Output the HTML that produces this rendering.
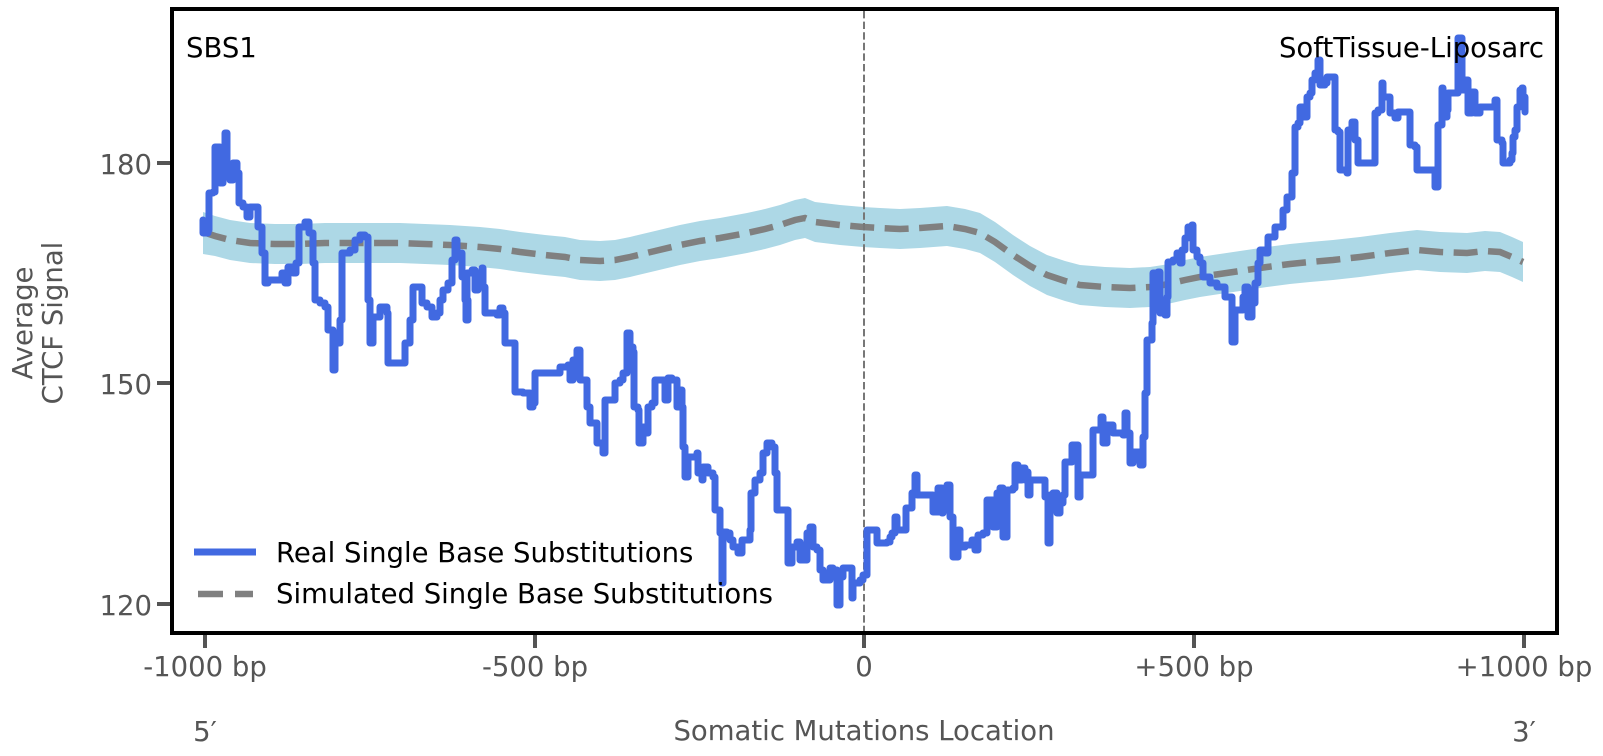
<!DOCTYPE html>
<html><head><meta charset="utf-8"><style>
html,body{margin:0;padding:0;background:#fff;}
svg{display:block;}
text{font-family:"DejaVu Sans","Liberation Sans",sans-serif;}
</style></head><body>
<svg width="1603" height="756" viewBox="0 0 1603 756" xmlns="http://www.w3.org/2000/svg">
<rect x="0" y="0" width="1603" height="756" fill="#fff"/>
<!-- band -->
<polygon fill="#ADD8E6" points="203,212 215,216 230,220 250,223 275,224 300,224 325,223 350,223 375,223 400,223 425,224 450,225 480,227 500,229 520,232 545,235 565,237 580,240 600,241 615,240 630,237 655,231 680,225 700,221 720,218 747,213 765,209 780,205 795,200 805,198 815,202 840,205 863,207 880,208 900,209 920,208 947,206 965,209 980,213 995,222 1013,235 1030,246 1047,255 1065,261 1080,265 1105,267 1130,268 1150,267 1163,265 1185,260 1200,257 1213,255 1240,251 1267,247 1290,244 1310,242 1333,240 1360,237 1390,233 1417,230 1440,232 1467,233 1485,231 1500,232 1512,237 1523,242 1523,282 1512,277 1500,272 1485,271 1467,273 1440,272 1417,270 1390,273 1360,277 1333,280 1310,282 1290,284 1267,287 1240,291 1213,295 1200,297 1185,300 1163,305 1150,307 1130,308 1105,307 1080,305 1065,301 1047,295 1030,286 1013,275 995,262 980,253 965,249 947,246 920,248 900,249 880,248 863,247 840,245 815,242 805,238 795,240 780,245 765,249 747,253 720,258 700,261 680,265 655,271 630,277 615,280 600,281 580,280 565,277 545,275 520,272 500,269 480,267 450,265 425,264 400,263 375,263 350,263 325,263 300,264 275,264 250,263 230,260 215,256 203,254"/>
<!-- simulated dashed -->
<polyline fill="none" stroke="#808080" stroke-width="6.5" stroke-dasharray="24 10.5" points="203,232 215,236 230,240 250,243 275,244 300,244 325,243 350,243 375,243 400,243 425,244 450,245 480,247 500,249 520,252 545,255 565,257 580,260 600,261 615,260 630,257 655,251 680,245 700,241 720,238 747,233 765,229 780,225 795,220 805,218 815,222 840,225 863,227 880,228 900,229 920,228 947,226 965,229 980,233 995,242 1013,255 1030,266 1047,275 1065,281 1080,285 1105,287 1130,288 1150,287 1163,285 1185,280 1200,277 1213,275 1240,271 1267,267 1290,264 1310,262 1333,260 1360,257 1390,253 1417,250 1440,252 1467,253 1485,251 1500,252 1512,257 1523,262"/>
<!-- zero line -->
<line x1="864" y1="11" x2="864" y2="631" stroke="#777" stroke-width="2" stroke-dasharray="7.4 3.2"/>
<!-- real series (step) -->
<path fill="none" stroke="#4169E1" stroke-width="7" stroke-linejoin="round" stroke-linecap="round" d="M203,220 V233 H206 H208 V230 H209 V193 H213 V192 H215 V147 H218 H220 V183 H223 V160 H225 V133 H227 V167 H230 V180 H233 V163 H237 V173 H239 V203 H243 V207 H247 V217 H250 V207 H256 H258 V227 H262 V253 H265 V283 H268 V280 H278 H282 V273 H285 V283 H288 V267 H293 V273 H296 V263 H299 V227 H305 V222 H309 V233 H313 V263 H315 V300 H320 V303 H325 V307 H328 V330 H333 V370 H335 V343 H340 V320 H342 V253 H350 V250 H355 V240 H360 V235 H365 V237 H368 V300 H370 V343 H373 V317 H380 V307 H387 V313 H388 V363 H403 H405 V343 H410 V320 H413 V287 H420 H422 V303 H427 V307 H432 V317 H437 V313 H440 V300 H443 V290 H448 V283 H452 V260 H455 V240 H457 V253 H462 V277 H465 V300 H466 V320 H468 V300 H467 V273 H472 V270 H475 V290 H478 V273 H482 V268 H483 V287 H485 V313 H497 V315 H500 V308 H503 V313 H505 V343 H513 H515 V392 H523 V393 H530 V407 H533 V403 H535 V373 H558 H560 V367 H568 V365 H570 V380 H573 V360 H577 V350 H580 V380 H585 H587 V407 H590 V423 H595 H597 V443 H600 H603 V453 H605 V400 H613 H615 V383 H620 V380 H623 V373 H627 V333 H630 V347 H633 V352 H634 V407 H638 V410 H639 V443 H643 V427 H647 V433 H648 V407 H652 V403 H655 V380 H662 H665 V400 H668 V378 H672 V380 H677 V407 H680 V390 H682 V407 H683 V447 H685 V477 H688 V457 H697 V453 H698 V473 H702 V480 H703 V467 H708 V473 H713 V477 H715 V510 H717 H720 V533 H722 V583 H723 V532 H727 V533 H730 V540 H733 V547 H738 V553 H742 V540 H747 H750 V530 H751 V493 H755 V480 H760 V473 H763 V453 H767 V443 H772 V447 H775 V473 H777 V510 H787 H788 V563 H792 V547 H797 V542 H800 V560 H805 H807 V533 H810 V527 H813 V547 H817 V550 H820 V570 H823 V580 H830 V568 H833 V570 H837 V605 H840 V577 H843 V568 H850 H852 V598 H853 V583 H860 V580 H863 V575 H867 V530 H875 H877 V543 H887 V542 H890 V537 H892 V533 H895 V517 H897 V530 H905 H906 V508 H910 H912 V493 H915 V475 H917 V495 H932 H933 V512 H937 H938 V488 H942 V513 H943 V490 H947 V485 H950 V517 H953 V557 H958 V530 H960 V547 H965 V545 H972 V540 H975 V550 H978 V535 H983 V533 H987 V500 H990 H993 V527 H997 V493 H1000 V488 H1003 V537 H1007 V490 H1013 V488 H1015 V465 H1018 V480 H1022 V468 H1025 V480 H1027 V472 H1028 V495 H1030 V480 H1043 H1045 V497 H1048 V543 H1050 V495 H1053 V493 H1057 V513 H1060 V503 H1063 V495 H1065 V462 H1070 H1072 V445 H1077 H1078 V497 H1080 V475 H1092 H1093 V430 H1100 H1101 V417 H1103 V443 H1107 V425 H1113 V433 H1123 V435 H1125 V413 H1127 V433 H1130 V463 H1133 V452 H1137 H1140 V465 H1143 V437 H1145 V393 H1147 V340 H1150 H1152 V323 H1153 V273 H1158 V272 H1160 V313 H1165 V315 H1167 V297 H1168 V262 H1173 V260 H1177 V253 H1180 V263 H1182 V250 H1185 V238 H1188 V227 H1192 V225 H1193 V250 H1197 V257 H1200 V263 H1203 V277 H1210 V283 H1217 V287 H1222 H1225 V297 H1228 H1232 V342 H1235 V310 H1240 H1243 V297 H1245 V287 H1248 V317 H1252 V303 H1255 V283 H1258 V263 H1260 V250 H1265 V253 H1268 V237 H1272 H1275 V227 H1282 H1283 V210 H1287 V197 H1290 H1292 V173 H1295 V127 H1298 V123 H1300 V107 H1303 V117 H1307 V97 H1310 V93 H1312 V80 H1315 V73 H1318 V60 H1320 V85 H1325 V83 H1327 V77 H1333 H1335 V130 H1338 V132 H1340 V170 H1347 V173 H1348 V130 H1352 V122 H1355 V140 H1358 V163 H1373 H1375 V113 H1378 V110 H1382 V83 H1383 V97 H1388 H1390 V113 H1395 V118 H1398 V112 H1407 H1410 V145 H1415 V147 H1417 V170 H1432 H1435 V187 H1438 V125 H1442 V88 H1443 V117 H1447 V110 H1448 V93 H1455 H1458 V38 H1462 V90 H1465 V80 H1468 V113 H1472 V92 H1475 V113 H1480 V107 H1493 H1495 V100 H1497 V140 H1502 V143 H1503 V163 H1510 V160 H1512 V153 H1513 V137 H1515 V130 H1517 V107 H1520 V90 H1522 V88 H1523 V97 H1525 V112"/>
<!-- frame -->
<rect x="172" y="9" width="1385" height="624" fill="none" stroke="#000" stroke-width="4"/>
<!-- ticks -->
<g stroke="#555" stroke-width="4">
<line x1="205" y1="635" x2="205" y2="648"/>
<line x1="535" y1="635" x2="535" y2="648"/>
<line x1="864" y1="635" x2="864" y2="648"/>
<line x1="1194" y1="635" x2="1194" y2="648"/>
<line x1="1524" y1="635" x2="1524" y2="648"/>
<line x1="157" y1="163" x2="170" y2="163"/>
<line x1="157" y1="383" x2="170" y2="383"/>
<line x1="157" y1="604" x2="170" y2="604"/>
</g>
<g fill="#555" font-size="27.5">
<text x="152" y="174" text-anchor="end">180</text>
<text x="152" y="394" text-anchor="end">150</text>
<text x="152" y="615" text-anchor="end">120</text>
<text x="205" y="676" text-anchor="middle">-1000 bp</text>
<text x="535" y="676" text-anchor="middle">-500 bp</text>
<text x="864" y="676" text-anchor="middle">0</text>
<text x="1194" y="676" text-anchor="middle">+500 bp</text>
<text x="1524" y="676" text-anchor="middle">+1000 bp</text>
<text x="864" y="740" text-anchor="middle">Somatic Mutations Location</text>
<text x="205" y="741" text-anchor="middle">5′</text>
<text x="1524" y="741" text-anchor="middle">3′</text>
<text x="32" y="323" text-anchor="middle" transform="rotate(-90 32 323)">Average</text>
<text x="62" y="323" text-anchor="middle" transform="rotate(-90 62 323)">CTCF Signal</text>
</g>
<g fill="#000" font-size="27.5">
<text x="186" y="57">SBS1</text>
<text x="1544" y="57" text-anchor="end">SoftTissue-Liposarc</text>
<text x="276" y="562">Real Single Base Substitutions</text>
<text x="276" y="603">Simulated Single Base Substitutions</text>
</g>
<line x1="194" y1="552" x2="256" y2="552" stroke="#4169E1" stroke-width="7"/>
<line x1="198" y1="594" x2="253" y2="594" stroke="#808080" stroke-width="6.5" stroke-dasharray="25 12"/>
</svg>
</body></html>
